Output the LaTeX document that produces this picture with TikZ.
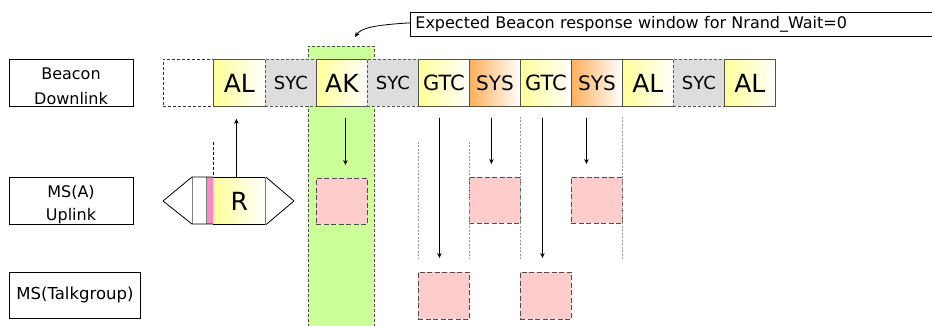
\documentclass[tikz,border=0pt]{standalone}
\usepackage{fontspec}
\setmainfont{DejaVu Sans}
\usetikzlibrary{arrows.meta,calc}
\definecolor{slotyel}{HTML}{FFFF99}
\definecolor{slotorg}{HTML}{FFB05A}
\definecolor{sycgray}{HTML}{DDDDDD}
\definecolor{bandgreen}{HTML}{CCFF99}
\definecolor{pinkbox}{HTML}{FFCCCC}
\definecolor{rpink}{HTML}{FF88C4}
\definecolor{edgecol}{HTML}{555544}
\begin{document}
\begin{tikzpicture}[x=1pt,y=-1pt,
  slot/.style={draw=edgecol, line width=0.8pt, minimum width=51pt, minimum height=47pt, inner sep=0pt, anchor=north west},
  yel/.style={slot, left color=slotyel, right color=white, font=\fontsize{25}{25}\selectfont},
  gtc/.style={slot, left color=slotyel, right color=white, font=\fontsize{21}{21}\selectfont},
  sys/.style={slot, left color=slotorg, right color=white, font=\fontsize{20}{20}\selectfont},
  syc/.style={slot, draw=gray!70!black, dash pattern=on 3pt off 2pt, fill=sycgray, font=\fontsize{18}{18}\selectfont},
  emptyslot/.style={slot, draw=black!80, dash pattern=on 3pt off 2pt, fill=white},
  lbl/.style={draw=black, line width=0.8pt, inner sep=0pt, anchor=north west},
  lbltext/.style={inner sep=0pt, font=\fontsize{16}{16}\selectfont},
  resp/.style={draw=black!70, dash pattern=on 5pt off 2.5pt, line width=0.9pt, fill=pinkbox, minimum width=51pt, minimum height=46pt, inner sep=0pt, anchor=north west},
  guide/.style={draw=gray!80, dash pattern=on 2pt off 1.5pt, line width=0.8pt},
  arr/.style={-{Stealth[length=5pt,width=4.5pt]}, line width=0.8pt}
]
\useasboundingbox (0,0) rectangle (932,326);

% green response band
\node[draw=gray!60!black, dash pattern=on 3pt off 2pt, line width=0.8pt, fill=bandgreen, minimum width=66pt, minimum height=290pt, inner sep=0pt, anchor=north west] (band) at (308,46) {};

% callout
\node[draw=black, line width=0.8pt, anchor=north west, minimum width=540pt, minimum height=23pt, inner sep=4pt, text width=530pt, align=left, font=\fontsize{16}{16}\selectfont] (callout) at (410,12) {Expected Beacon response window for Nrand\_Wait=0};
\coordinate (calltip) at (355,37);
\draw[arr] ([yshift=1.5pt]callout.west) .. controls (374,25) and (361,28) .. (calltip);

% labels
\node[lbl, minimum width=124pt, minimum height=47pt] (bd) at (9,59) {};
\node[lbltext] (bd1) at (71,74) {Beacon};
\node[lbltext] (bd2) at (71,99) {Downlink};
\node[lbl, minimum width=124pt, minimum height=47pt] (msa) at (9,177) {};
\node[lbltext] (msa1) at (71,192) {MS(A)};
\node[lbltext] (msa2) at (71,216) {Uplink};
\node[lbl, minimum width=131pt, minimum height=46pt, font=\fontsize{16.5}{16.5}\selectfont] (mst) at (9,272) {MS(Talkgroup)};

% beacon slots
\node[emptyslot, minimum width=50pt] (e0) at (163,59) {};
\node[yel, minimum width=52pt] (al1) at (213,59) {AL};
\node[syc] (syc1) at (265,59) {SYC};
\node[yel] (ak) at (316,59) {AK};
\node[syc] (syc2) at (367,59) {SYC};
\node[gtc] (gtc1) at (418,59) {GTC};
\node[sys] (sys1) at (469,59) {SYS};
\node[gtc] (gtc2) at (520,59) {GTC};
\node[sys] (sys2) at (571,59) {SYS};
\node[yel] (al2) at (622,59) {AL};
\node[syc] (syc3) at (673,59) {SYC};
\node[yel] (al3) at (724,59) {AL};

% R burst
\fill[white] (192,177) rectangle (206,224);
\fill[rpink] (206,177) rectangle (213,224);
\draw[gray, line width=0.8pt] (192,177) -- (192,224) (206,177) -- (206,224);
\draw[line width=0.8pt] (163,201) -- (192,177) -- (213,177) (163,201) -- (192,224) -- (213,224);
\draw[line width=0.8pt, black!80!red] (213,177) -- (213,224);
\node[yel, minimum width=52pt, draw=none] (r) at (213,177) {R};
\draw[line width=0.8pt] (r.north west) -- (r.north east) (r.south west) -- (r.south east);
\draw[line width=0.8pt] (r.north east) -- (294,201) -- (r.south east);
\draw[gray, line width=0.8pt] (r.north east) -- (r.south east);
\draw[dash pattern=on 3pt off 2pt, line width=0.7pt] (213,142) -- (213,177);

% response boxes
\node[resp] (pa) at (316,178) {};
\node[resp] (p1) at (469,177) {};
\node[resp] (p2) at (571,177) {};
\node[resp, minimum height=47pt] (t1) at (418,272) {};
\node[resp, minimum height=47pt] (t2) at (520,272) {};

% guide lines
\draw[guide] (418,142) -- (418,259);
\draw[guide] (469,142) -- (469,259);
\draw[guide] (520,117) -- (520,259);
\draw[guide] (622,117) -- (622,259);

% arrows
\draw[arr, shorten <=0pt, shorten >=12pt] ([xshift=-3pt]r.north) -- ([xshift=-3pt]al1.south);
\draw[arr, shorten <=11pt, shorten >=13pt] ([xshift=3.5pt]ak.south) -- ([xshift=3.5pt]pa.north);
\draw[arr, shorten <=11pt, shorten >=14pt] ([xshift=-4.5pt]gtc1.south) -- ([xshift=-4.5pt]t1.north);
\draw[arr, shorten <=11pt, shorten >=13pt] ([xshift=-3.5pt]sys1.south) -- ([xshift=-3.5pt]p1.north);
\draw[arr, shorten <=11pt, shorten >=14pt] ([xshift=-3.5pt]gtc2.south) -- ([xshift=-3.5pt]t2.north);
\draw[arr, shorten <=11pt, shorten >=13pt] ([xshift=-10.5pt]sys2.south) -- ([xshift=-10.5pt]p2.north);
\end{tikzpicture}
\end{document}
